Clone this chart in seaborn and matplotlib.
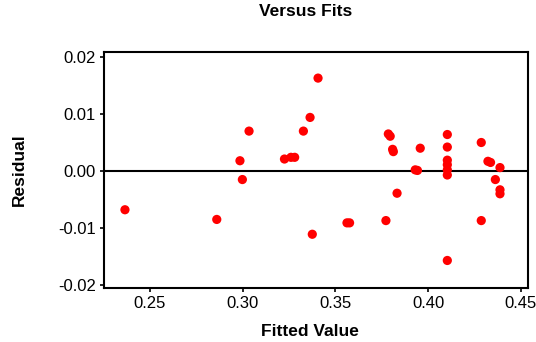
import matplotlib
matplotlib.use("Agg")
import matplotlib.pyplot as plt
import seaborn as sns
import pandas as pd
from matplotlib.ticker import FormatStrFormatter

fitted = [0.2365, 0.2860, 0.2985, 0.2998, 0.3034, 0.3225, 0.3260, 0.3280,
          0.3327, 0.3363, 0.3375, 0.3406, 0.3562, 0.3576, 0.3772, 0.3785,
          0.3795, 0.3808, 0.3812, 0.3832, 0.3930, 0.3942, 0.3957, 0.4103,
          0.4103, 0.4103, 0.4103, 0.4103, 0.4103, 0.4103, 0.4286, 0.4286,
          0.4322, 0.4336, 0.4387, 0.4362, 0.4387, 0.4387]
residual = [-0.0068, -0.0085, 0.0018, -0.0015, 0.0070, 0.0021, 0.0024, 0.0024,
            0.0070, 0.0094, -0.0111, 0.0163, -0.0091, -0.0091, -0.0087, 0.0065,
            0.0061, 0.0038, 0.0034, -0.0039, 0.0002, 0.0001, 0.0040, 0.0064,
            0.0042, 0.0019, 0.0011, 0.0002, -0.0007, -0.0157, 0.0050, -0.0087,
            0.0017, 0.0015, 0.0006, -0.0015, -0.0033, -0.0040]

x_ticks = [0.25, 0.30, 0.35, 0.40, 0.45]
y_ticks = [-0.02, -0.01, 0.00, 0.01, 0.02]

sns.set_style("ticks")
plt.rcParams['font.family'] = ['Liberation Sans', 'DejaVu Sans']
plt.rcParams['axes.unicode_minus'] = False
plt.rcParams['text.color'] = 'black'
plt.rcParams['axes.labelcolor'] = 'black'

df = pd.DataFrame({"Fitted Value": fitted, "Residual": residual})

fig = plt.figure(figsize=(5.36, 3.42), dpi=100)
ax = fig.add_axes([104/536, 1 - 288/342, 424/536, 236/342])

sns.scatterplot(data=df, x="Fitted Value", y="Residual", ax=ax,
                color="#ff0000", s=44, edgecolor="none", linewidth=0, zorder=3)
ax.axhline(0, color="black", lw=1.5, zorder=2)

ax.set_xlim(0.2252, 0.4538)
ax.set_ylim(-0.02053, 0.02088)
ax.set_xticks(x_ticks)
ax.set_yticks(y_ticks)
ax.xaxis.set_major_formatter(FormatStrFormatter('%.2f'))
ax.yaxis.set_major_formatter(FormatStrFormatter('%.2f'))
ax.tick_params(axis='both', direction='out', length=3, width=1.2, labelsize=12, color='black', labelcolor='black', pad=3)

for sp in ax.spines.values():
    sp.set_visible(True)
    sp.set_color('black')
    sp.set_linewidth(1.5)

ax.set_xlabel("Fitted Value", fontsize=12.5, fontweight='bold', va='center', color='black')
ax.set_ylabel("Residual", fontsize=12.5, fontweight='bold', va='center', color='black')
ax.xaxis.set_label_coords((310 - 104) / 424, -(331 - 288) / 236)
ax.yaxis.set_label_coords(-(104 - 19) / 424, 0.5)
ax.set_title("Versus Fits", fontsize=12.5, fontweight='bold', color='black',
             x=(306 - 104) / 424, y=1 + (52 - 20) / 236, va='center')

fig.savefig("out.png", dpi=100)
